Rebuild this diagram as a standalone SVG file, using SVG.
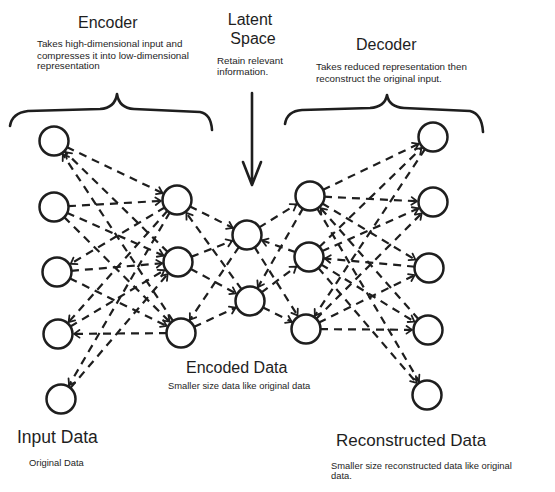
<svg xmlns="http://www.w3.org/2000/svg" width="555" height="492" viewBox="0 0 555 492">
<style>
.nd{fill:#fff;stroke:#1e1e1e;stroke-width:2.5}
.ed{stroke:#1e1e1e;stroke-width:2.2;stroke-dasharray:8 6;fill:none;marker-end:url(#ah)}
.br{fill:none;stroke:#1e1e1e;stroke-width:2.6;stroke-linecap:round;stroke-linejoin:round}
.h{font-family:"Liberation Sans",Arial,sans-serif;font-size:16px;fill:#1e1e1e}
.d{font-family:"Liberation Sans",Arial,sans-serif;font-size:9.8px;fill:#1e1e1e}
.s{font-family:"Liberation Sans",Arial,sans-serif;font-size:9.4px;fill:#1e1e1e}
</style>
<defs>
<marker id="ah" markerUnits="userSpaceOnUse" viewBox="-26 -8 28 16" markerWidth="28" markerHeight="16" refX="0" refY="0" orient="auto" overflow="visible">
<path d="M -21.5 -3.8 L -16 0 L -21.5 3.8" fill="none" stroke="#1e1e1e" stroke-width="1.8" stroke-linecap="round" stroke-linejoin="round"/>
</marker>
</defs>
<rect width="555" height="492" fill="#fff"/>
<g id="connectors">
<line class="ed" x1="54" y1="141" x2="177" y2="200"/>
<line class="ed" x1="178" y1="262" x2="54" y2="141"/>
<line class="ed" x1="181" y1="333" x2="54" y2="141"/>
<line class="ed" x1="54" y1="207" x2="177" y2="200"/>
<line class="ed" x1="54" y1="207" x2="178" y2="262"/>
<line class="ed" x1="54" y1="207" x2="181" y2="333"/>
<line class="ed" x1="177" y1="200" x2="57" y2="272"/>
<line class="ed" x1="57" y1="272" x2="178" y2="262"/>
<line class="ed" x1="57" y1="272" x2="181" y2="333"/>
<line class="ed" x1="177" y1="200" x2="58" y2="334"/>
<line class="ed" x1="58" y1="334" x2="178" y2="262"/>
<line class="ed" x1="181" y1="333" x2="58" y2="334"/>
<line class="ed" x1="177" y1="200" x2="61" y2="399"/>
<line class="ed" x1="61" y1="399" x2="178" y2="262"/>
<line class="ed" x1="177" y1="200" x2="247" y2="235"/>
<line class="ed" x1="250" y1="301" x2="177" y2="200"/>
<line class="ed" x1="178" y1="262" x2="247" y2="235"/>
<line class="ed" x1="178" y1="262" x2="250" y2="301"/>
<line class="ed" x1="247" y1="235" x2="181" y2="333"/>
<line class="ed" x1="181" y1="333" x2="250" y2="301"/>
<line class="ed" x1="247" y1="235" x2="310" y2="196"/>
<line class="ed" x1="309" y1="257" x2="247" y2="235"/>
<line class="ed" x1="247" y1="235" x2="306" y2="329"/>
<line class="ed" x1="310" y1="196" x2="250" y2="301"/>
<line class="ed" x1="250" y1="301" x2="309" y2="257"/>
<line class="ed" x1="250" y1="301" x2="306" y2="329"/>
<line class="ed" x1="310" y1="196" x2="433" y2="137"/>
<line class="ed" x1="309" y1="257" x2="433" y2="137"/>
<line class="ed" x1="433" y1="137" x2="306" y2="329"/>
<line class="ed" x1="310" y1="196" x2="433" y2="202"/>
<line class="ed" x1="309" y1="257" x2="433" y2="202"/>
<line class="ed" x1="306" y1="329" x2="433" y2="202"/>
<line class="ed" x1="310" y1="196" x2="429" y2="268"/>
<line class="ed" x1="429" y1="268" x2="309" y2="257"/>
<line class="ed" x1="306" y1="329" x2="429" y2="268"/>
<line class="ed" x1="428" y1="330" x2="310" y2="196"/>
<line class="ed" x1="309" y1="257" x2="428" y2="330"/>
<line class="ed" x1="306" y1="329" x2="428" y2="330"/>
<line class="ed" x1="310" y1="196" x2="427" y2="395"/>
<line class="ed" x1="309" y1="257" x2="427" y2="395"/>
</g>
<g id="encoder-brace"><path class="br" d="M 10 126 Q 12 113 28 111 L 100 109 Q 115 108 117 94 Q 119 108 134 109 L 200 112 Q 211 114 212 130"/></g>
<g id="decoder-brace"><path class="br" d="M 285 124 Q 287 111 302 110 L 370 108 Q 385 107 387 95 Q 389 107 404 108 L 470 111 Q 482 114 483 132"/></g>
<g id="latent-arrow"><path class="br" d="M 252 93 L 252 184 M 243 162 L 252 185 L 261 162"/></g>
<g id="n1"><circle class="nd" cx="54" cy="141" r="14.5"/></g>
<g id="n2"><circle class="nd" cx="54" cy="207" r="14.5"/></g>
<g id="n3"><circle class="nd" cx="57" cy="272" r="14.5"/></g>
<g id="n4"><circle class="nd" cx="58" cy="334" r="14.5"/></g>
<g id="n5"><circle class="nd" cx="61" cy="399" r="14.5"/></g>
<g id="h1"><circle class="nd" cx="177" cy="200" r="14.5"/></g>
<g id="h2"><circle class="nd" cx="178" cy="262" r="14.5"/></g>
<g id="h3"><circle class="nd" cx="181" cy="333" r="14.5"/></g>
<g id="l1"><circle class="nd" cx="247" cy="235" r="14.5"/></g>
<g id="l2"><circle class="nd" cx="250" cy="301" r="14.5"/></g>
<g id="d1"><circle class="nd" cx="310" cy="196" r="14.5"/></g>
<g id="d2"><circle class="nd" cx="309" cy="257" r="14.5"/></g>
<g id="d3"><circle class="nd" cx="306" cy="329" r="14.5"/></g>
<g id="o1"><circle class="nd" cx="433" cy="137" r="14.5"/></g>
<g id="o2"><circle class="nd" cx="433" cy="202" r="14.5"/></g>
<g id="o3"><circle class="nd" cx="429" cy="268" r="14.5"/></g>
<g id="o4"><circle class="nd" cx="428" cy="330" r="14.5"/></g>
<g id="o5"><circle class="nd" cx="427" cy="395" r="14.5"/></g>
<g id="labels">
<text class="h" x="78" y="28">Encoder</text>
<text class="d" x="37" y="47">Takes high-dimensional input and</text>
<text class="d" x="37" y="58.5">compresses it into low-dimensional</text>
<text class="d" x="37" y="69">representation</text>
<text class="h" x="250" y="25" text-anchor="middle">Latent</text>
<text class="h" x="253" y="44" text-anchor="middle">Space</text>
<text class="d" x="217" y="64">Retain relevant</text>
<text class="d" x="217" y="75">information.</text>
<text class="h" x="356" y="50">Decoder</text>
<text class="d" x="316" y="70">Takes reduced representation then</text>
<text class="d" x="316" y="82">reconstruct the original input.</text>
<text class="h" x="186" y="373">Encoded Data</text>
<text class="s" x="168" y="389">Smaller size data like original data</text>
<text class="h" x="17" y="443" style="font-size:17.5px">Input Data</text>
<text class="s" x="29" y="466">Original Data</text>
<text class="h" x="336" y="446" style="font-size:17px">Reconstructed Data</text>
<text class="s" x="331" y="469">Smaller size reconstructed data like original</text>
<text class="s" x="331" y="479">data.</text>
</g>
</svg>
